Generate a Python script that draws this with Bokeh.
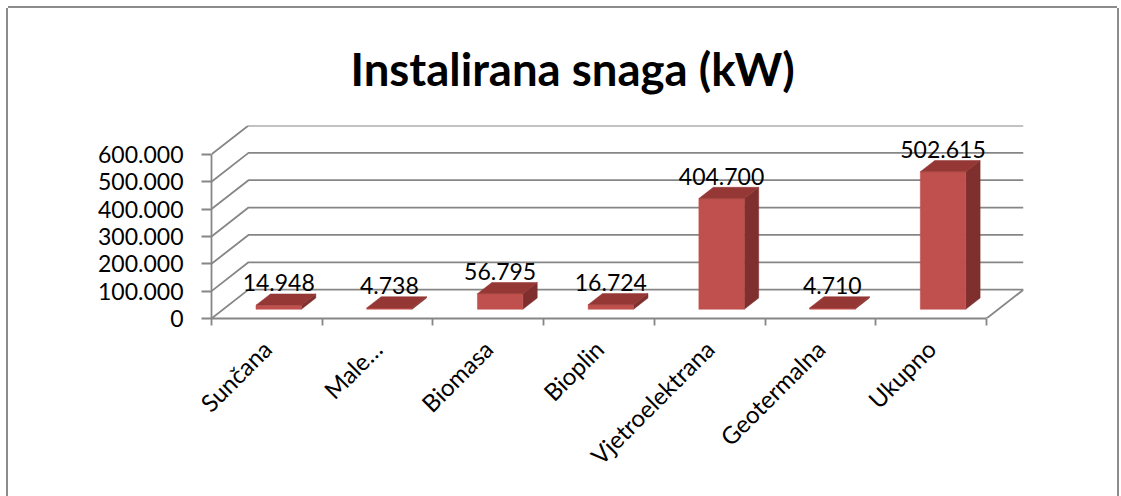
import math
from bokeh.plotting import figure
from bokeh.models import Range1d, FixedTicker, LinearAxis, ColumnDataSource
from bokeh.core.properties import value
from bokeh.embed import file_html
from bokeh.resources import INLINE

# ---------------- data ----------------
title_text = "Instalirana snaga (kW)"
categories = ["Sunčana", "Male…", "Biomasa", "Bioplin", "Vjetroelektrana", "Geotermalna", "Ukupno"]
values = [14948, 4738, 56795, 16724, 404700, 4710, 502615]
value_labels = ["14.948", "4.738", "56.795", "16.724", "404.700", "4.710", "502.615"]
y_ticks = [0, 100000, 200000, 300000, 400000, 500000, 600000]
y_tick_labels = ["0", "100.000", "200.000", "300.000", "400.000", "500.000", "600.000"]

# ---------------- style / 3D geometry ----------------
DEPTH_X = 0.334      # depth shift in category units
DEPTH_Y = 105450     # depth shift in value units
BAR_W = 0.41
FRONT = 0.32         # bar front face depth fraction
BACK = 0.71          # bar back face depth fraction
GRAY = "#868686"
C_FRONT = "#c0504d"
C_SIDE = "#7f302e"
C_TOP = "#953735"
FONT = "Lato"

n = len(categories)
ymax = y_ticks[-1]

p = figure(width=1109, height=488,
           x_range=Range1d(0, n + DEPTH_X), y_range=Range1d(0, ymax + DEPTH_Y),
           output_backend="svg", toolbar_location=None,
           x_axis_type=None, y_axis_type=None,
           min_border_left=203, min_border_right=94,
           min_border_top=116, min_border_bottom=178)
p.grid.visible = False
p.outline_line_color = None
p.background_fill_color = "white"
p.border_fill_color = "white"
p.styles = {"transform": "translate(8px, 8px)",
            "box-shadow": "-2px 0 0 0 #8c8c8c, 2px 0 0 0 #8c8c8c, 0 -2px 0 0 #8c8c8c"}

# title
p.title.text = title_text
p.title.align = "left"
p.title.offset = 139
p.title.text_font = FONT
p.title.text_font_style = "bold"
p.title.text_font_size = "45.5px"
p.title.text_color = "black"
p.title.standoff = 60

# walls / floor grid lines
gx, gy = [], []
for t in y_ticks:
    gx.append([0, DEPTH_X, n + DEPTH_X])
    gy.append([t, t + DEPTH_Y, t + DEPTH_Y])
gx.append([n, n + DEPTH_X])
gy.append([0, DEPTH_Y])
p.multi_line(xs=gx, ys=gy, line_color=GRAY, line_width=1.8)

# 3D bars
fx, fy, sx, sy, tx, ty = [], [], [], [], [], []
for i, v in enumerate(values):
    c = i + 0.5 + FRONT * DEPTH_X
    x0, x1 = c - BAR_W / 2, c + BAR_W / 2
    yb = FRONT * DEPTH_Y
    yt = v + FRONT * DEPTH_Y
    ddx = (BACK - FRONT) * DEPTH_X
    ddy = (BACK - FRONT) * DEPTH_Y
    fx.append([x0, x1, x1, x0]); fy.append([yb, yb, yt, yt])
    sx.append([x1, x1 + ddx, x1 + ddx, x1]); sy.append([yb, yb + ddy, yt + ddy, yt])
    tx.append([x0, x1, x1 + ddx, x0 + ddx]); ty.append([yt, yt, yt + ddy, yt + ddy])
p.patches(xs=sx, ys=sy, fill_color=C_SIDE, line_color=C_SIDE, line_width=0.5)
p.patches(xs=fx, ys=fy, fill_color=C_FRONT, line_color=C_FRONT, line_width=0.5)
p.patches(xs=tx, ys=ty, fill_color=C_TOP, line_color=C_TOP, line_width=0.5)

# value labels
lab_src = ColumnDataSource(dict(
    x=[i + 0.5 + FRONT * DEPTH_X for i in range(n)],
    y=[v + BACK * DEPTH_Y for v in values],
    text=value_labels))
p.text(x="x", y="y", text="text", source=lab_src, text_font=value(FONT),
       text_font_size="23px", text_align="center", text_baseline="middle",
       y_offset=-11, text_color="black")

# left value axis
yaxis = LinearAxis(ticker=FixedTicker(ticks=y_ticks, minor_ticks=[]),
                   major_label_overrides=dict(zip(y_ticks, y_tick_labels)),
                   bounds=(0, ymax))
yaxis.axis_line_color = GRAY
yaxis.axis_line_width = 1.8
yaxis.major_tick_line_color = GRAY
yaxis.major_tick_line_width = 1.8
yaxis.major_tick_in = 0
yaxis.major_tick_out = 10
yaxis.minor_tick_line_color = None
yaxis.major_label_standoff = 18
yaxis.major_label_text_font = FONT
yaxis.major_label_text_font_size = "23px"
yaxis.major_label_text_color = "black"
p.add_layout(yaxis, "left")

# bottom category axis
centers = [i + 0.5 for i in range(n)]
bounds_ticks = [float(i) for i in range(n + 1)]
xaxis = LinearAxis(ticker=FixedTicker(ticks=centers, minor_ticks=bounds_ticks),
                   major_label_overrides=dict(zip(centers, categories)),
                   bounds=(0, n))
xaxis.axis_line_color = GRAY
xaxis.axis_line_width = 1.8
xaxis.major_tick_line_color = None
xaxis.minor_tick_line_color = GRAY
xaxis.minor_tick_line_width = 1.8
xaxis.minor_tick_in = 0
xaxis.minor_tick_out = 7
xaxis.major_label_orientation = math.pi / 4
xaxis.major_label_standoff = 19
xaxis.major_label_text_font = FONT
xaxis.major_label_text_font_size = "24px"
xaxis.major_label_text_color = "black"
p.add_layout(xaxis, "below")

open("out.html", "w").write(file_html(p, INLINE))
